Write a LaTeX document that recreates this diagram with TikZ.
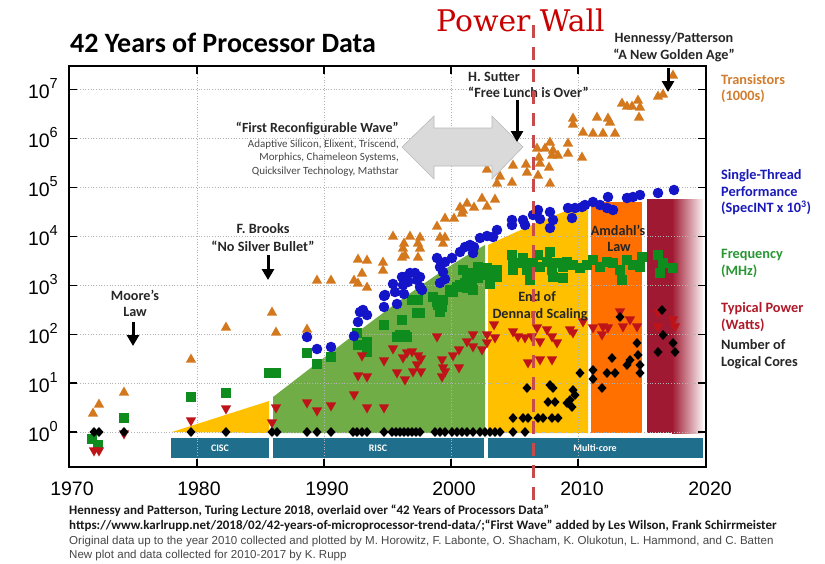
\documentclass[tikz,border=0pt]{standalone}
\usepackage{fontspec}
\setmainfont{Carlito}
\newfontfamily\arialf{Liberation Sans}
\newfontfamily\pwfont{DejaVu Serif}
\usetikzlibrary{arrows.meta}
\definecolor{triO}{RGB}{212,120,30}
\definecolor{cirB}{RGB}{20,20,200}
\definecolor{sqG}{RGB}{15,140,30}
\definecolor{triR}{RGB}{190,20,25}
\definecolor{regGreen}{RGB}{112,173,71}
\definecolor{regGold}{RGB}{255,192,0}
\definecolor{regOrange}{RGB}{255,112,0}
\definecolor{regRed}{RGB}{160,25,50}
\definecolor{tealbar}{RGB}{31,110,140}
\definecolor{legO}{RGB}{210,125,45}
\definecolor{legB}{RGB}{25,25,185}
\definecolor{legG}{RGB}{40,150,50}
\definecolor{legR}{RGB}{175,25,40}
\definecolor{pwred}{RGB}{200,0,0}
\definecolor{dashred}{RGB}{200,75,75}
\definecolor{arrowGray}{RGB}{218,218,218}
\definecolor{txtgray}{RGB}{70,70,70}
\begin{document}
\begin{tikzpicture}[x=1pt,y=-1pt,
  annot/.style={font=\bfseries\fontsize{14.2}{15}\selectfont, anchor=base, inner sep=0pt, text=black!85},
  annotw/.style={annot, anchor=base west},
  small/.style={font=\fontsize{11}{12}\selectfont, anchor=base east, inner sep=0pt, text=txtgray},
  blkarrow/.style={line width=3pt, -{Triangle[width=12pt,length=11pt]}},
  legend/.style={font=\bfseries\fontsize{14.3}{15}\selectfont, anchor=base west, inner sep=0pt},
  ylab/.style={font=\arialf\fontsize{19.5}{19.5}\selectfont, anchor=base east, inner sep=0pt},
  xlab/.style={font=\arialf\fontsize{19.5}{19.5}\selectfont, anchor=base, inner sep=0pt},
  gridl/.style={gray!60, line width=0.7pt, dotted},
  bartext/.style={text=white, font=\bfseries\fontsize{10}{10}\selectfont, inner sep=0pt},
  foot/.style={font=\bfseries\fontsize{13}{13}\selectfont, anchor=base west, inner sep=0pt, text=black!90},
  footr/.style={font=\arialf\fontsize{11.55}{12}\selectfont, anchor=base west, inner sep=0pt, text=txtgray},
  pwline/.style={dashred, line width=3pt, dash pattern=on 13pt off 9pt}
]
\useasboundingbox (0,0) rectangle (825,563);

% ---- background regions
\fill[regGold] (172,432) -- (269,401) -- (269,433) -- cycle;
\fill[regGreen] (273,433) -- (273,397) .. controls (360,330) and (430,275) .. (485,245) -- (485,433) -- cycle;
\fill[regGold] (488,433) -- (488,245) .. controls (520,230) and (560,212) .. (588,203) -- (588,433) -- cycle;
\fill[regOrange] (591,202) rectangle (642,433);
\fill[regRed] (647,199) rectangle (672,433);
\shade[left color=regRed, right color=regRed!6] (672,199) rectangle (703,433);

% ---- era bars
\fill[tealbar] (171,438) rectangle (269,458);
\fill[tealbar] (273,438) rectangle (484,458);
\fill[tealbar] (488,438) rectangle (703,458);
\node[bartext] (cisc) at (220,448) {CISC};
\node[bartext] (risc) at (378,448) {RISC};
\node[bartext] (mcore) at (595,448) {Multi-core};

% ---- grid
\foreach \yy in {432,383.1,334.2,285.3,236.4,187.5,138.6,89.7}
  \draw[gridl] (69,\yy) -- (706,\yy);
\foreach \xx in {197,324,451,578}
  \draw[gridl] (\xx,66) -- (\xx,467);

% ---- data: transistors
\foreach \x/\y in {93/413,99/404,124/392,191/359,226/327,272/312,276/332,307/329,317/280,331/280,354/280,358/283,358/259,367/260,362/273,367/287,383/262,383/270,393/236,410/236,420/237,418/243,420/248,404/243,403/248,405/255,402/257,418/257,437/226,440/237,445/237,443/243,445/218,454/218,460/207,463/210,467/203,462/213,474/207,482/198,487/206,495/199,487/169,497/183,500/176,512/182,513/165,526/164,527/172,537/148,539/157,540/163,538/175,545/148,550/142,552/155,553/150,558/155,549/167,550/183,568/143,568/153,582/157,573/118,573/124,583/132,593/133,603/133,615/133,597/117,608/118,610/122,622/103,627/106,632/106,638/100,640/107,639/117,658/96,663/94,673/75}
  \fill[triO] (\x,\y) ++(0,-5.5) -- ++(5.2,9.2) -- ++(-10.4,0) -- cycle;

% ---- data: frequency
\foreach \x/\y in {92/439,98/445,124/418,191/397,226/393,269/373,276/373,307/353,317/364,331/357,357/333,367/342,367/352,358/345,384/325,402/320,397/337,407/337,417/313,420/313,412/300,437/302,442/307,440/312,453/292,460/285,467/288,473/290,490/284,400/335,405/335,418/300,433/297,438/305,443/300,450/290,457/287,465/283,468/280,472/282,475/275,478/278,482/273,488/275,492/272,497/270,463/270,467/278,473/273,478/267,487/268,490/277,493/270,497/277,512/255,513/263,513/270,517/263,523/258,527/267,530/273,527/270,530/280,533/263,538/255,540/267,547/262,550/252,552/270,553/277,557/263,563/267,563/278,567/262,573/265,580/268,587/265,593/260,600/267,607/262,613/263,620/270,622/280,627/260,633/265,640/267,642/257,658/255,663/263,660/273,673/268}
  \fill[sqG] (\x,\y) ++(-4.8,-4.8) rectangle ++(9.6,9.6);

% ---- data: single-thread performance
\foreach \x/\y in {307/337,317/349,331/347,354/336,358/322,360/312,363/310,367/315,384/296,384/307,397/304,393/284,395/292,385/295,402/277,405/277,410/273,408/282,415/273,417/280,420/277,420/287,422/290,403/285,404/294,437/258,445/262,440/267,443/272,445/279,440/283,452/258,460/252,465/247,470/245,474/247,473/253,480/238,487/236,493/237,497/230,512/220,512/225,523/220,525/225,533/215,538/210,540/219,550/212,550/228,553/220,568/208,572/218,575/208,582/207,585/205,593/202,600/205,607/208,613/210,608/197,627/198,633/197,640/195,658/193,674/190}
  \fill[cirB] (\x,\y) circle[radius=5.3pt];

% ---- data: typical power
\foreach \x/\y in {94/451,99/451,124/434,191/421,226/409,272/423,276/408,307/403,317/411,331/406,354/395,358/376,367/377,367/408,384/408,362/356,384/361,393/349,397/373,403/358,405/380,407/353,412/352,418/356,421/359,417/365,421/372,413/372,437/337,442/360,443/368,445/372,442/377,453/356,459/368,459/350,467/342,473/335,473/347,482/350,487/335,487/343,494/325,495/338,513/332,518/337,525/338,532/337,537/328,540/342,547/330,552/337,557/343,570/330,573/333,583/322,593/328,602/335,603/327,608/328,620/312,623/327,630/320,637/327,528/363,540/360,552/360,658/313,658/327,673/320,675/327}
  \fill[triR] (\x,\y) ++(0,5.5) -- ++(5.2,-9.2) -- ++(-10.4,0) -- cycle;

% ---- data: logical cores
\foreach \x in {94,99,124,191,226,272,277,307,317,331,353,357,362,367,384,392,396,400,404,408,412,416,420,435,440,445,452,457,462,467,473,480,485,490,495,500,513,525}
  \fill (\x,432) ++(0,-5) -- ++(4.5,5) -- ++(-4.5,5) -- ++(-4.5,-5) -- cycle;
\foreach \x/\y in {513/418,523/418,528/418,538/418,543/418,552/418,558/418,527/388,550/385,553/388,548/402,555/402,567/403,570/400,572/407,573/390,575/395,580/373,593/370,593/379,602/388,607/373,615/373,612/358,627/365,630/360,637/343,638/355,640/365,640/373,620/317,662/310,663/335,658/352,673/343,675/352}
  \fill (\x,\y) ++(0,-5) -- ++(4.5,5) -- ++(-4.5,5) -- ++(-4.5,-5) -- cycle;

% ---- frame and ticks
\draw[line width=2.5pt] (69,66) rectangle (706,467);
\foreach \yy in {432,383.1,334.2,285.3,236.4,187.5,138.6,89.7} {
  \draw[line width=1.4pt] (69,\yy) -- (77,\yy);
  \draw[line width=1.4pt] (706,\yy) -- (698,\yy);
}
\foreach \xx in {197,324,451,578} {
  \draw[line width=1.4pt] (\xx,467) -- (\xx,459);
  \draw[line width=1.4pt] (\xx,66) -- (\xx,74);
}

% ---- axis labels
\node[ylab] (y0) at (58,441) {10\raisebox{10pt}{\fontsize{14.5}{14.5}\selectfont 0}};
\node[ylab] (y1) at (58,392.1) {10\raisebox{10pt}{\fontsize{14.5}{14.5}\selectfont 1}};
\node[ylab] (y2) at (58,343.2) {10\raisebox{10pt}{\fontsize{14.5}{14.5}\selectfont 2}};
\node[ylab] (y3) at (58,294.3) {10\raisebox{10pt}{\fontsize{14.5}{14.5}\selectfont 3}};
\node[ylab] (y4) at (58,245.4) {10\raisebox{10pt}{\fontsize{14.5}{14.5}\selectfont 4}};
\node[ylab] (y5) at (58,196.5) {10\raisebox{10pt}{\fontsize{14.5}{14.5}\selectfont 5}};
\node[ylab] (y6) at (58,147.6) {10\raisebox{10pt}{\fontsize{14.5}{14.5}\selectfont 6}};
\node[ylab] (y7) at (58,98.7) {10\raisebox{10pt}{\fontsize{14.5}{14.5}\selectfont 7}};
\node[xlab] (x1970) at (72,495) {1970};
\node[xlab] (x1980) at (199,495) {1980};
\node[xlab] (x1990) at (327,495) {1990};
\node[xlab] (x2000) at (454,495) {2000};
\node[xlab] (x2010) at (582,495) {2010};
\node[xlab] (x2020) at (710,495) {2020};

% ---- title
\node[font=\bfseries\fontsize{28}{30}\selectfont, anchor=base west, inner sep=0pt] (title) at (70,52) {42 Years of Processor Data};

% ---- legend
\node[legend, text=legO] (lt1) at (721,84) {Transistors};
\node[legend, text=legO] (lt2) at (721,100.5) {(1000s)};
\node[legend, text=legB] (lp1) at (721,179) {Single-Thread};
\node[legend, text=legB] (lp2) at (721,196) {Performance};
\node[legend, text=legB] (lp3) at (721,212.5) {(SpecINT x 10\textsuperscript{3})};
\node[legend, text=legG] (lf1) at (721,258) {Frequency};
\node[legend, text=legG] (lf2) at (721,275) {(MHz)};
\node[legend, text=legR] (lw1) at (721,312) {Typical Power};
\node[legend, text=legR] (lw2) at (721,329.5) {(Watts)};
\node[legend, text=black!85] (lc1) at (721,349) {Number of};
\node[legend, text=black!85] (lc2) at (721,366) {Logical Cores};

% ---- first reconfigurable wave
\filldraw[fill=arrowGray, draw=gray!55, line width=0.6pt]
  (402,147) -- (434,116) -- (434,128) -- (492,128) -- (492,116) -- (523,147)
  -- (492,179) -- (492,166) -- (434,166) -- (434,179) -- cycle;
\node[annot, anchor=base east, font=\bfseries\fontsize{14}{15}\selectfont] (frw) at (399,132.5) {“First Reconfigurable Wave”};
\node[small] (frw1) at (399,147) {Adaptive Silicon, Elixent, Triscend,};
\node[small] (frw2) at (399,160.5) {Morphics, Chameleon Systems,};
\node[small] (frw3) at (399,174) {Quicksilver Technology, Mathstar};

% ---- annotations with arrows
\node[annot] (moore1) at (135,300.5) {Moore’s};
\node[annot] (moore2) at (135,316.5) {Law};
\coordinate (mA) at (133,322); \coordinate (mB) at (133,346);
\draw[blkarrow] (mA) -- (mB);

\node[annot] (brooks1) at (263,233.5) {F. Brooks};
\node[annot] (brooks2) at (263,251.5) {“No Silver Bullet”};
\coordinate (bA) at (268,255); \coordinate (bB) at (268,280);
\draw[blkarrow] (bA) -- (bB);

\node[annotw] (sutter1) at (468,81.5) {H. Sutter};
\node[annotw] (sutter2) at (468,97.5) {“Free Lunch is Over”};
\coordinate (sA) at (517,100); \coordinate (sB) at (517,142);
\draw[blkarrow] (sA) -- (sB);

\node[annot] (hp1) at (674,42.5) {Hennessy/Patterson};
\node[annot] (hp2) at (674,59.5) {“A New Golden Age”};
\coordinate (hA) at (668,68); \coordinate (hB) at (668,92);
\draw[blkarrow] (hA) -- (hB);

\node[annot] (amd1) at (618,235.5) {Amdahl’s};
\node[annot] (amd2) at (619,251.5) {Law};
\node[annot] (den1) at (537,301.5) {End of};
\node[annot] (den2) at (540,318.5) {Dennard Scaling};

% ---- power wall
\node[font=\pwfont\fontsize{29.8}{31}\selectfont, text=pwred, anchor=base west, inner sep=0pt] (pw) at (436,31) {Power Wall};
\coordinate (pwT) at (533,25); \coordinate (pwB) at (533,500);
\draw[pwline] (pwT) -- (pwB);

% ---- footer
\node[foot] (f1) at (69,514.5) {Hennessy and Patterson, Turing Lecture 2018, overlaid over “42 Years of Processors Data”};
\node[foot] (f2) at (69,529.5) {https://www.karlrupp.net/2018/02/42-years-of-microprocessor-trend-data/;“First Wave” added by Les Wilson, Frank Schirrmeister};
\node[footr] (f3) at (69,544.5) {Original data up to the year 2010 collected and plotted by M. Horowitz, F. Labonte, O. Shacham, K. Olukotun, L. Hammond, and C. Batten};
\node[footr] (f4) at (69,558.5) {New plot and data collected for 2010-2017 by K. Rupp};
\end{tikzpicture}
\end{document}
